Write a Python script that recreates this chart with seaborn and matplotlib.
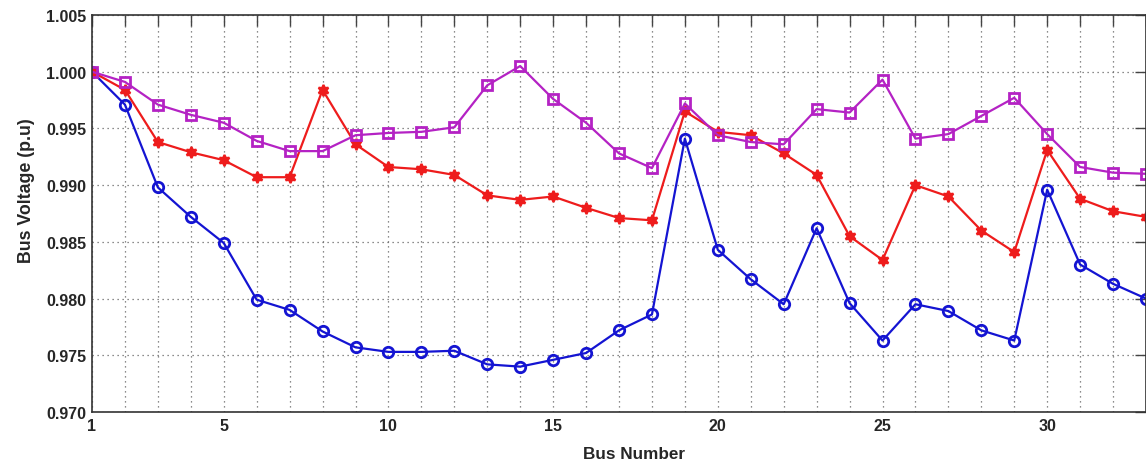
import numpy as np
import pandas as pd
import matplotlib
matplotlib.use('Agg')
import matplotlib.pyplot as plt
import seaborn as sns

bus = list(range(1, 34))

v_blue = [1.0000, 0.9971, 0.9898, 0.9872, 0.9849, 0.9799, 0.9790, 0.9771, 0.9757, 0.9753,
          0.9753, 0.9754, 0.9742, 0.9740, 0.9746, 0.9752, 0.9772, 0.9786, 0.9941, 0.9843,
          0.9817, 0.9795, 0.9862, 0.9796, 0.9763, 0.9795, 0.9789, 0.9772, 0.9763, 0.9896,
          0.9830, 0.9813, 0.9800]
v_red = [1.0000, 0.9984, 0.9938, 0.9929, 0.9922, 0.9907, 0.9907, 0.9984, 0.9936, 0.9916,
         0.9914, 0.9909, 0.9891, 0.9887, 0.9890, 0.9880, 0.9871, 0.9869, 0.9965, 0.9947,
         0.9944, 0.9928, 0.9909, 0.9855, 0.9834, 0.9900, 0.9890, 0.9860, 0.9841, 0.9931,
         0.9888, 0.9877, 0.9872]
v_mag = [1.0000, 0.9991, 0.9971, 0.9962, 0.9955, 0.9939, 0.9930, 0.9930, 0.9944, 0.9946,
         0.9947, 0.9951, 0.9988, 1.0005, 0.9976, 0.9955, 0.9928, 0.9915, 0.9972, 0.9944,
         0.9938, 0.9936, 0.9967, 0.9964, 0.9993, 0.9941, 0.9945, 0.9961, 0.9977, 0.9945,
         0.9916, 0.9911, 0.9910]

x_labels = {1: '1', 5: '5', 10: '10', 15: '15', 20: '20', 25: '25', 30: '30'}
y_ticks = [0.970, 0.975, 0.980, 0.985, 0.990, 0.995, 1.000, 1.005]

sns.set_style('white')
plt.rcParams['font.family'] = ['Liberation Sans', 'DejaVu Sans']
plt.rcParams['font.weight'] = 'bold'

fig = plt.figure(figsize=(11.46, 4.64), dpi=100)
ax = fig.add_axes([92 / 1146, 1 - 413 / 464, 1 - 92 / 1146, (413 - 16) / 464])

df = pd.DataFrame({'bus': bus, 'blue': v_blue, 'red': v_red, 'mag': v_mag})

# three voltage profiles
sns.lineplot(data=df, x='bus', y='blue', ax=ax, color='#1414d2', lw=1.6,
             marker='o', markersize=7.5, markerfacecolor='none',
             markeredgecolor='#1414d2', markeredgewidth=2.0)
sns.lineplot(data=df, x='bus', y='red', ax=ax, color='#ee1c1c', lw=1.6,
             marker=(6, 1, 0), markersize=8, markerfacecolor='#ee1c1c',
             markeredgecolor='#ee1c1c', markeredgewidth=1.6)
sns.lineplot(data=df, x='bus', y='mag', ax=ax, color='#b422c4', lw=1.6,
             marker='s', markersize=7, markerfacecolor='none',
             markeredgecolor='#b422c4', markeredgewidth=2.0)

ax.set_xlim(1, 33)
ax.set_ylim(0.970, 1.005)
ax.set_xticks(bus)
ax.set_xticklabels([x_labels.get(b, '') for b in bus])
ax.set_yticks(y_ticks)
ax.set_yticklabels(['%.3f' % t for t in y_ticks])

ax.tick_params(axis='both', direction='in', length=8, width=1, color='#444444',
               top=True, right=True, labelsize=11.5, pad=4)
for lab in ax.get_xticklabels() + ax.get_yticklabels():
    lab.set_fontweight('bold')

ax.grid(True, linestyle=(0, (1, 3)), color='#666666', linewidth=0.9)
for s in ax.spines.values():
    s.set_color('#333333')
    s.set_linewidth(1.2)

ax.set_xlabel('Bus Number', fontsize=12.3, fontweight='bold', labelpad=10)
ax.xaxis.set_label_coords(0.514, -0.085)
ax.set_ylabel('Bus Voltage (p.u)', fontsize=12.8, fontweight='bold')
ax.yaxis.set_label_coords(-0.054, 0.559)

fig.savefig('out.png', dpi=100)
